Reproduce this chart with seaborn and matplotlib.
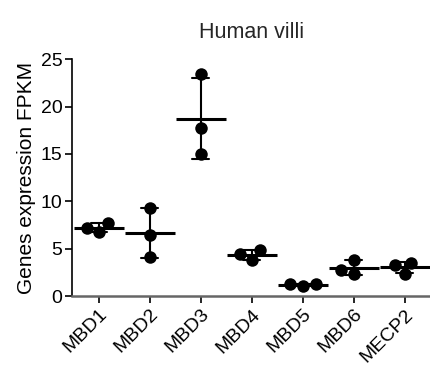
import matplotlib
matplotlib.use("Agg")
import matplotlib.pyplot as plt
import seaborn as sns
import pandas as pd

genes = ["MBD1", "MBD2", "MBD3", "MBD4", "MBD5", "MBD6", "MECP2"]
mbd1 = [7.7, 7.2, 6.75]
mbd2 = [9.35, 6.45, 4.15]
mbd3 = [23.4, 17.75, 15.0]
mbd4 = [4.85, 4.4, 3.8]
mbd5 = [1.25, 1.25, 1.1]
mbd6 = [3.85, 2.8, 2.35]
mecp2 = [3.5, 3.25, 2.35]
y_ticks = [0, 5, 10, 15, 20, 25]

values = [mbd1, mbd2, mbd3, mbd4, mbd5, mbd6, mecp2]
df = pd.DataFrame({
    "gene": [g for g, v in zip(genes, values) for _ in v],
    "fpkm": [x for v in values for x in v],
})

sns.set_style("ticks")
plt.rcParams["font.family"] = ["Liberation Sans", "DejaVu Sans"]

fig = plt.figure(figsize=(4.31, 3.67), dpi=100)
ax = fig.add_axes([0.167, 0.193, 0.833, 0.646])

sns.swarmplot(data=df, x="gene", y="fpkm", order=genes, color="black",
              size=9, ax=ax, zorder=3)
sns.pointplot(data=df, x="gene", y="fpkm", order=genes, color="black",
              errorbar="sd", capsize=0.33, err_kws={"linewidth": 1.5},
              markers="_", markersize=36, markeredgewidth=2.2,
              linestyle="none", ax=ax, zorder=2)

ax.set_xlim(-0.53, 6.52)
ax.set_ylim(0, 25)
ax.set_yticks(y_ticks)
ax.set_xlabel("")
ax.set_ylabel("Genes expression FPKM", fontsize=15, color="black", labelpad=3)
ax.set_title("Human villi", fontsize=15.5, pad=15)
sns.despine(ax=ax)
ax.spines["left"].set_color("black")
ax.spines["left"].set_linewidth(1.2)
ax.spines["bottom"].set_color("#666666")
ax.spines["bottom"].set_linewidth(1.8)
ax.tick_params(axis="both", direction="out", length=5, width=1.2, color="black",
               labelsize=14, labelcolor="black", pad=2)
plt.setp(ax.get_xticklabels(), rotation=45, ha="right", rotation_mode="anchor")

fig.savefig("out.png", dpi=100)
